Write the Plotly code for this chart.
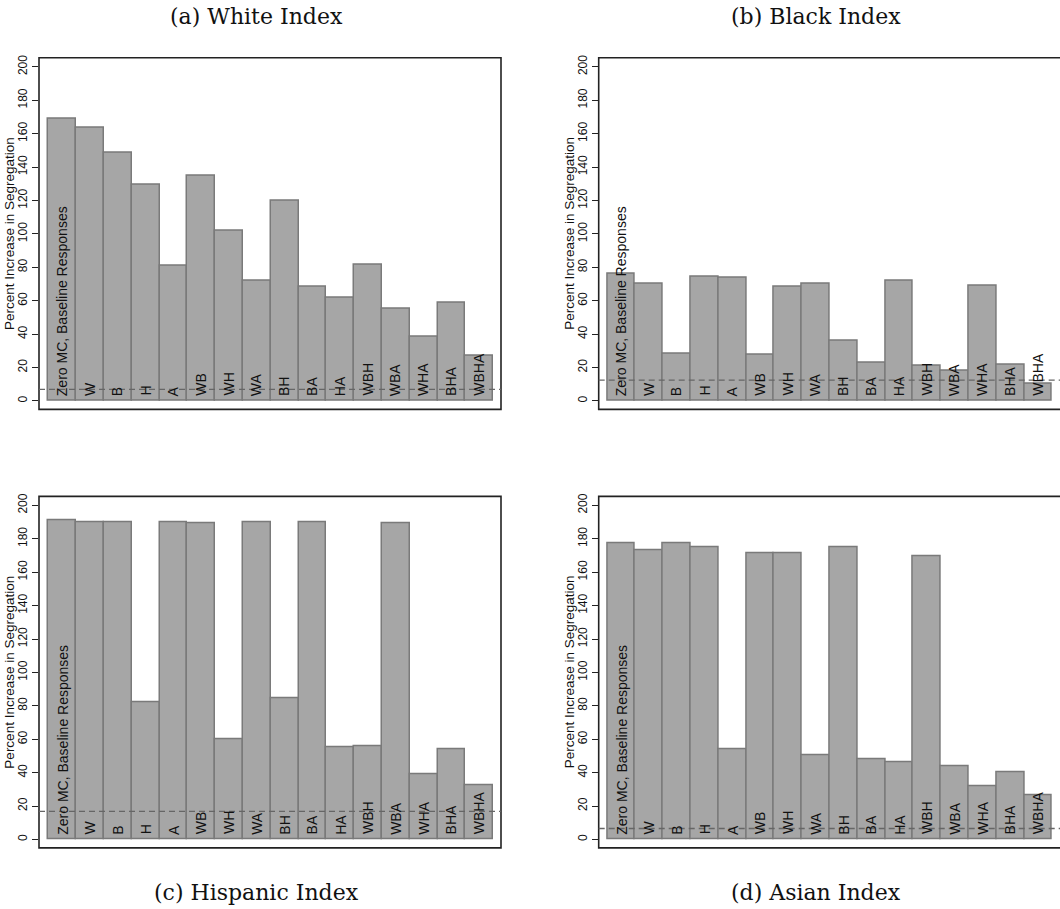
import plotly.graph_objects as go

categories = ["Zero MC, Baseline Responses", "W", "B", "H", "A", "WB", "WH", "WA",
              "BH", "BA", "HA", "WBH", "WBA", "WHA", "BHA", "WBHA"]

white_index = [168.8, 163.4, 148.3, 129.2, 81.1, 134.8, 101.6, 72.0,
               119.7, 68.6, 62.0, 81.7, 54.9, 38.2, 58.8, 26.8]
black_index = [76.3, 70.2, 28.4, 74.6, 73.8, 27.4, 68.6, 70.2,
               36.2, 22.7, 72.0, 20.9, 18.3, 69.0, 21.5, 10.1]
hispanic_index = [190.9, 190.1, 190.1, 81.9, 190.1, 189.5, 60.2, 189.7,
                  84.7, 190.1, 55.3, 55.5, 189.1, 38.8, 53.7, 32.4]
asian_index = [177.1, 172.8, 177.1, 175.1, 53.7, 171.2, 171.2, 50.5,
               175.1, 47.7, 45.9, 169.2, 44.1, 31.6, 40.0, 26.2]

reference_lines = [6.9, 12.5, 16.9, 6.6]
panel_titles = ["(a) White Index", "(b) Black Index", "(c) Hispanic Index", "(d) Asian Index"]
y_title = "Percent Increase in Segregation"
y_ticks = [0, 20, 40, 60, 80, 100, 120, 140, 160, 180, 200]

series = [white_index, black_index, hispanic_index, asian_index]

W, H = 1060, 909
# pixel geometry of the panels: (left, right, top, bottom)
panels_px = [(39, 501, 55, 407.7), (598.7, 1061, 55, 407.7),
             (39, 501, 495, 847.7), (598.7, 1061, 495, 847.7)]
bar_start_px = [48.3, 607.3, 48.3, 607.3]
bar_w_px = 27.8

FILL = "#a6a6a6"
EDGE = "#7a7a7a"
SANS = "Liberation Sans, Arial, sans-serif"
SERIF = "DejaVu Serif, serif"

fig = go.Figure()
layout = dict(width=W, height=H, margin=dict(l=0, r=0, t=0, b=0),
              paper_bgcolor="white", plot_bgcolor="white", showlegend=False,
              bargap=0, annotations=[], shapes=[])

x = list(range(len(categories)))
for k, vals in enumerate(series):
    L, R, T, B = panels_px[k]
    Rc = min(R, W)
    xa = "xaxis" if k == 0 else f"xaxis{k+1}"
    ya = "yaxis" if k == 0 else f"yaxis{k+1}"
    xr = "x" if k == 0 else f"x{k+1}"
    yr = "y" if k == 0 else f"y{k+1}"
    x0 = -0.5 - (bar_start_px[k] - L) / bar_w_px
    x1 = x0 + (Rc - L) / bar_w_px
    layout[xa] = dict(domain=[L / W, Rc / W], range=[x0, x1], anchor=yr,
                      showticklabels=False, ticks="", showgrid=False,
                      zeroline=False, showline=False, fixedrange=True)
    layout[ya] = dict(domain=[1 - B / H, 1 - T / H], range=[-5.0, 205.4], anchor=xr,
                      tickvals=y_ticks, ticks="outside", ticklen=6, tickwidth=1,
                      tickcolor="#222", tickangle=-90,
                      tickfont=dict(family=SANS, size=12, color="#111"),
                      showgrid=False, zeroline=False, showline=False)
    fig.add_trace(go.Bar(x=x, y=vals, width=1, xaxis=xr, yaxis=yr,
                         marker=dict(color=FILL, line=dict(color=EDGE, width=1.5)),
                         hoverinfo="y"))
    # frame
    layout["shapes"].append(dict(type="rect", xref="paper", yref="paper",
                                 x0=L / W, x1=R / W, y0=1 - B / H, y1=1 - T / H,
                                 line=dict(color="#222", width=1.6), layer="above"))
    # dashed reference line
    layout["shapes"].append(dict(type="line", xref=f"{xr} domain", yref=yr,
                                 x0=0, x1=1, y0=reference_lines[k], y1=reference_lines[k],
                                 line=dict(color="#666", width=1.3, dash="6px,4px"),
                                 layer="above"))
    # bar labels
    for i, c in enumerate(categories):
        layout["annotations"].append(dict(x=i, y=0, xref=xr, yref=yr, text=c,
                                          textangle=-90, showarrow=False,
                                          xanchor="center", yanchor="bottom", yshift=3,
                                          font=dict(family=SANS, size=14, color="#111")))
    # y axis title
    layout["annotations"].append(dict(x=(L - 29.5) / W, y=1 - ((T + B) / 2) / H,
                                      xref="paper", yref="paper", text=y_title,
                                      textangle=-90, showarrow=False,
                                      xanchor="center", yanchor="middle",
                                      font=dict(family=SANS, size=13.5, color="#111")))
    # panel title
    tx = 256 if k in (0, 2) else 816
    ty = 14 if k < 2 else 892
    layout["annotations"].append(dict(x=tx / W, y=1 - ty / H, xref="paper", yref="paper",
                                      text=panel_titles[k], showarrow=False,
                                      xanchor="center", yanchor="middle",
                                      font=dict(family=SERIF, size=22, color="#111")))

fig.update_layout(**layout)
fig.write_html("out.html", config={"displayModeBar": False},
               post_script="document.body.style.margin='0';document.body.style.overflow='hidden';")
